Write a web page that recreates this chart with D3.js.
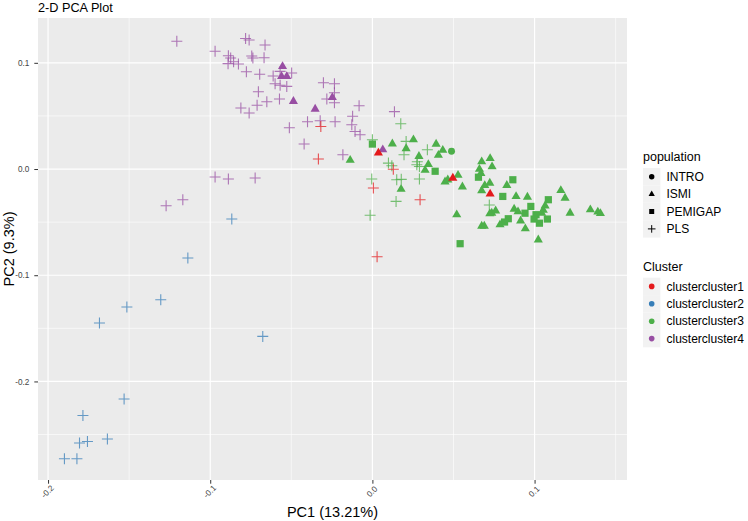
<!DOCTYPE html>
<html><head><meta charset="utf-8">
<script src="https://cdn.jsdelivr.net/npm/d3@7"></script>
<style>body{margin:0;background:#fff}text{font-family:"Liberation Sans",Arial,sans-serif}</style>
</head><body><svg id="c" width="748" height="521"></svg>
<script>
// ---------- data ----------
const populations = ["INTRO","ISMI","PEMIGAP","PLS"];
const clusters = ["clustercluster1","clustercluster2","clustercluster3","clustercluster4"];
const clusterColors = ["#E41A1C","#377EB8","#4DAF4A","#984EA3"];
const xTicks = [-0.2,-0.1,0,0.1];
const xTickLabels = ["-0.2","-0.1","0.0","0.1"];
const yTicks = [-0.2,-0.1,0,0.1];
const yTickLabels = ["-0.2","-0.1","0.0","0.1"];
const xMinor = [-0.15,-0.05,0.05,0.15];
const yMinor = [-0.25,-0.15,-0.05,0.05];

// [PC1, PC2]
const c1_ISMI = [[0.0037,0.0151],[0.0496,-0.0085],[0.0726,-0.0235]];
const c1_PLS = [[-0.0318,0.0401],[-0.0333,0.0094],[0.0129,-0.0002],[0.0006,-0.0179],[0.0294,-0.0289],[0.0029,-0.0826]];
const c2_PLS = [[-0.0867,-0.0471],[-0.1138,-0.0838],[-0.1305,-0.1231],[-0.1514,-0.1299],[-0.1683,-0.1450],
  [-0.0676,-0.1576],[-0.1531,-0.2166],[-0.1785,-0.2320],[-0.1634,-0.2542],[-0.1757,-0.2565],[-0.1806,-0.2580],
  [-0.1899,-0.2728],[-0.1822,-0.2728]];
const c3_INTRO = [[0.0488,0.0168]];
const c3_PEMIGAP = [[0.0000,0.0235],[0.0387,-0.0021],[0.0654,-0.0077],[0.0541,-0.0703],[0.0866,-0.0101],
  [0.0804,-0.0258],[0.0977,-0.0352],[0.0941,-0.0416],[0.0838,-0.0468],[0.0815,-0.0499],[0.1009,-0.0430],
  [0.0997,-0.0471],[0.1030,-0.0510],[0.1079,-0.0471],[0.1085,-0.0289]];
const c3_ISMI = [[-0.0137,0.0083],[0.0123,0.0238],[0.0253,0.0276],[0.0208,0.0193],[0.0177,-0.0190],
  [0.0287,0.0119],[0.0393,0.0235],[0.0434,0.0177],[0.0407,0.0130],[0.0345,0.0043],[0.0325,-0.0011],
  [0.0528,-0.0058],[0.0448,-0.0120],[0.0465,-0.0101],[0.0555,-0.0167],[0.0520,-0.0430],[0.0674,0.0069],
  [0.0726,0.0100],[0.0738,0.0022],[0.0660,-0.0002],[0.0669,-0.0041],[0.0724,-0.0132],[0.0693,-0.0155],
  [0.0674,-0.0204],[0.0829,-0.0153],[0.0886,-0.0258],[0.0956,-0.0264],[0.0874,-0.0377],[0.0898,-0.0402],
  [0.0736,-0.0414],[0.0760,-0.0393],[0.0724,-0.0421],[0.0914,-0.0487],[0.0787,-0.0524],[0.0674,-0.0537],
  [0.0690,-0.0537],[0.0943,-0.0562],[0.1065,-0.0346],[0.1054,-0.0388],[0.1044,-0.0414],[0.1023,-0.0666],
  [0.1162,-0.0202],[0.1188,-0.0273],[0.1219,-0.0414],[0.1344,-0.0383],[0.1390,-0.0404],[0.1406,-0.0418]];
const c3_PLS = [[0.0000,0.0276],[0.0175,0.0427],[0.0208,0.0260],[0.0195,0.0135],[0.0099,0.0056],
  [0.0120,0.0031],[-0.0004,-0.0094],[0.0150,-0.0101],[0.0178,-0.0097],[0.0146,-0.0305],[-0.0014,-0.0435],
  [0.0339,0.0182],[0.0274,0.0040],[0.0290,0.0024],[0.0277,0.0069],[0.0290,-0.0094],[0.0721,-0.0339]];
const c4_ISMI = [[-0.0554,0.0966],[-0.0560,0.0872],[-0.0528,0.0872],[-0.0487,0.0637],[-0.0353,0.0565],
  [-0.0247,0.0674],[0.0064,0.0182]];
const c4_PLS = [[-0.1206,0.1203],[-0.0970,0.1109],[-0.0888,0.1067],[-0.0874,0.1045],[-0.0890,0.0992],
  [-0.0856,0.1010],[-0.0826,0.0989],[-0.0782,0.1229],[-0.0760,0.1215],[-0.0662,0.1168],[-0.0744,0.1064],
  [-0.0737,0.1045],[-0.0668,0.1048],[-0.0777,0.0916],[-0.0695,0.0893],[-0.0612,0.0876],[-0.0569,0.0919],
  [-0.0498,0.0904],[-0.0600,0.0803],[-0.0569,0.0789],[-0.0528,0.0778],[-0.0703,0.0728],[-0.0651,0.0634],
  [-0.0711,0.0601],[-0.0573,0.0660],[-0.0811,0.0574],[-0.0760,0.0527],[-0.0512,0.0389],[-0.0400,0.0445],
  [-0.0302,0.0813],[-0.0234,0.0803],[-0.0234,0.0718],[-0.0281,0.0659],[-0.0234,0.0624],[-0.0082,0.0596],
  [0.0136,0.0540],[-0.0322,0.0455],[-0.0230,0.0445],[-0.0122,0.0497],[-0.0127,0.0417],[-0.0107,0.0354],
  [-0.0076,0.0323],[-0.0421,0.0236],[-0.0182,0.0135],[-0.0970,-0.0075],[-0.0888,-0.0094],[-0.0723,-0.0085],
  [-0.1272,-0.0346],[-0.1169,-0.0289]];

const groups = [
  {pop:"PLS", cl:3, pts:c4_PLS}, {pop:"PLS", cl:1, pts:c2_PLS}, {pop:"PLS", cl:2, pts:c3_PLS},
  {pop:"PLS", cl:0, pts:c1_PLS}, {pop:"PEMIGAP", cl:2, pts:c3_PEMIGAP}, {pop:"ISMI", cl:2, pts:c3_ISMI},
  {pop:"INTRO", cl:2, pts:c3_INTRO}, {pop:"ISMI", cl:3, pts:c4_ISMI}, {pop:"ISMI", cl:0, pts:c1_ISMI}
];
const points = [];
groups.forEach(g => g.pts.forEach(p => points.push({pc1:p[0], pc2:p[1], pop:g.pop, cl:g.cl})));

// ---------- chart ----------
const svg = d3.select("#c");
const L=38, R=627, T=18, B=480;
const x = d3.scaleLinear().domain([-0.2062,0.1570]).range([L,R]);
const y = d3.scaleLinear().domain([-0.2928,0.1422]).range([B,T]);
const color = d3.scaleOrdinal().domain(d3.range(4)).range(clusterColors);

svg.append("rect").attr("x",L).attr("y",T).attr("width",R-L).attr("height",B-T).attr("fill","#EBEBEB");
const grid = svg.append("g");
grid.selectAll(".xm").data(xMinor).join("line").attr("x1",d=>x(d)).attr("x2",d=>x(d)).attr("y1",T).attr("y2",B)
  .attr("stroke","#fff").attr("stroke-width",0.6);
grid.selectAll(".ym").data(yMinor).join("line").attr("y1",d=>y(d)).attr("y2",d=>y(d)).attr("x1",L).attr("x2",R)
  .attr("stroke","#fff").attr("stroke-width",0.6);
grid.selectAll(".xM").data(xTicks).join("line").attr("x1",d=>x(d)).attr("x2",d=>x(d)).attr("y1",T).attr("y2",B)
  .attr("stroke","#fff").attr("stroke-width",1.2);
grid.selectAll(".yM").data(yTicks).join("line").attr("y1",d=>y(d)).attr("y2",d=>y(d)).attr("x1",L).attr("x2",R)
  .attr("stroke","#fff").attr("stroke-width",1.2);

// axes
const ax = svg.append("g").attr("transform",`translate(0,${B})`)
  .call(d3.axisBottom(x).tickValues(xTicks).tickFormat((d,i)=>xTickLabels[i]).tickSize(3.7).tickSizeOuter(0));
ax.select(".domain").remove();
ax.selectAll("line").attr("stroke","#333").attr("stroke-width",1);
ax.selectAll("text").attr("y",0).attr("dy","0.35em").attr("text-anchor","middle")
  .attr("transform","translate(-1,11.5) rotate(-45)").attr("fill","#444")
  .style("font-size","8.2px").style("font-family","'Liberation Sans',Arial,sans-serif");
const ay = svg.append("g").attr("transform",`translate(${L},0)`)
  .call(d3.axisLeft(y).tickValues(yTicks).tickFormat((d,i)=>yTickLabels[i]).tickSize(3.7).tickPadding(5).tickSizeOuter(0));
ay.select(".domain").remove();
ay.selectAll("line").attr("stroke","#333").attr("stroke-width",1);
ay.selectAll("text").attr("fill","#444").style("font-size","8.2px").style("font-family","'Liberation Sans',Arial,sans-serif");

// symbols
const sym = {
  INTRO: d3.symbol().type(d3.symbolCircle).size(38)(),
  ISMI: d3.symbol().type(d3.symbolTriangle).size(36)(),
  PEMIGAP: d3.symbol().type(d3.symbolSquare).size(52)(),
  PLS: "M-5.5,0H5.5M0,-5.5V5.5"
};
const symL = {
  INTRO: d3.symbol().type(d3.symbolCircle).size(23)(),
  ISMI: d3.symbol().type(d3.symbolTriangle).size(17)(),
  PEMIGAP: d3.symbol().type(d3.symbolSquare).size(25)(),
  PLS: "M-3.8,0H3.8M0,-3.8V3.8"
};

const pg = svg.append("g");
const order = ["PLS","PEMIGAP","ISMI","INTRO"];
order.forEach(pop => {
  pg.append("g").selectAll("path").data(points.filter(p=>p.pop===pop)).join("path")
    .attr("transform",d=>`translate(${x(d.pc1)},${y(d.pc2)})`)
    .attr("d",sym[pop])
    .attr("fill",pop==="PLS"?"none":d=>color(d.cl))
    .attr("stroke",pop==="PLS"?d=>color(d.cl):"none")
    .attr("stroke-width",1.1)
    .attr("opacity",pop==="PLS"?0.75:1);
});

// titles
svg.append("text").attr("x",38).attr("y",11.5).text("2-D PCA Plot").style("font-size","12.7px").attr("fill","#000");
svg.append("text").attr("x",(L+R)/2).attr("y",517).attr("text-anchor","middle").text("PC1 (13.21%)")
  .style("font-size","14.5px").attr("fill","#000");
svg.append("text").attr("transform",`translate(14,${(T+B)/2}) rotate(-90)`).attr("text-anchor","middle")
  .text("PC2 (9.3%)").style("font-size","14.5px").attr("fill","#000");

// legends
const lg = svg.append("g");
const kx = 643, ks = 17.4;
lg.append("text").attr("x",kx).attr("y",161).text("population").style("font-size","12.5px");
populations.forEach((p,i)=>{
  const ky = 168 + i*ks;
  lg.append("rect").attr("x",kx).attr("y",ky).attr("width",ks).attr("height",ks).attr("fill","#F2F2F2");
  lg.append("path").attr("transform",`translate(${kx+ks/2},${ky+ks/2})`).attr("d",symL[p])
    .attr("fill",p==="PLS"?"none":"#000").attr("stroke",p==="PLS"?"#000":"none").attr("stroke-width",1);
  lg.append("text").attr("x",666.5).attr("y",ky+ks/2).attr("dy","0.35em").text(p).style("font-size","12px");
});
lg.append("text").attr("x",kx).attr("y",271).text("Cluster").style("font-size","12.5px");
clusters.forEach((c,i)=>{
  const ky = 277.7 + i*ks;
  lg.append("rect").attr("x",kx).attr("y",ky).attr("width",ks).attr("height",ks).attr("fill","#F2F2F2");
  lg.append("circle").attr("cx",kx+ks/2).attr("cy",ky+ks/2).attr("r",2.8).attr("fill",color(i));
  lg.append("text").attr("x",666.5).attr("y",ky+ks/2).attr("dy","0.35em").text(c).style("font-size","12px");
});
</script></body></html>
